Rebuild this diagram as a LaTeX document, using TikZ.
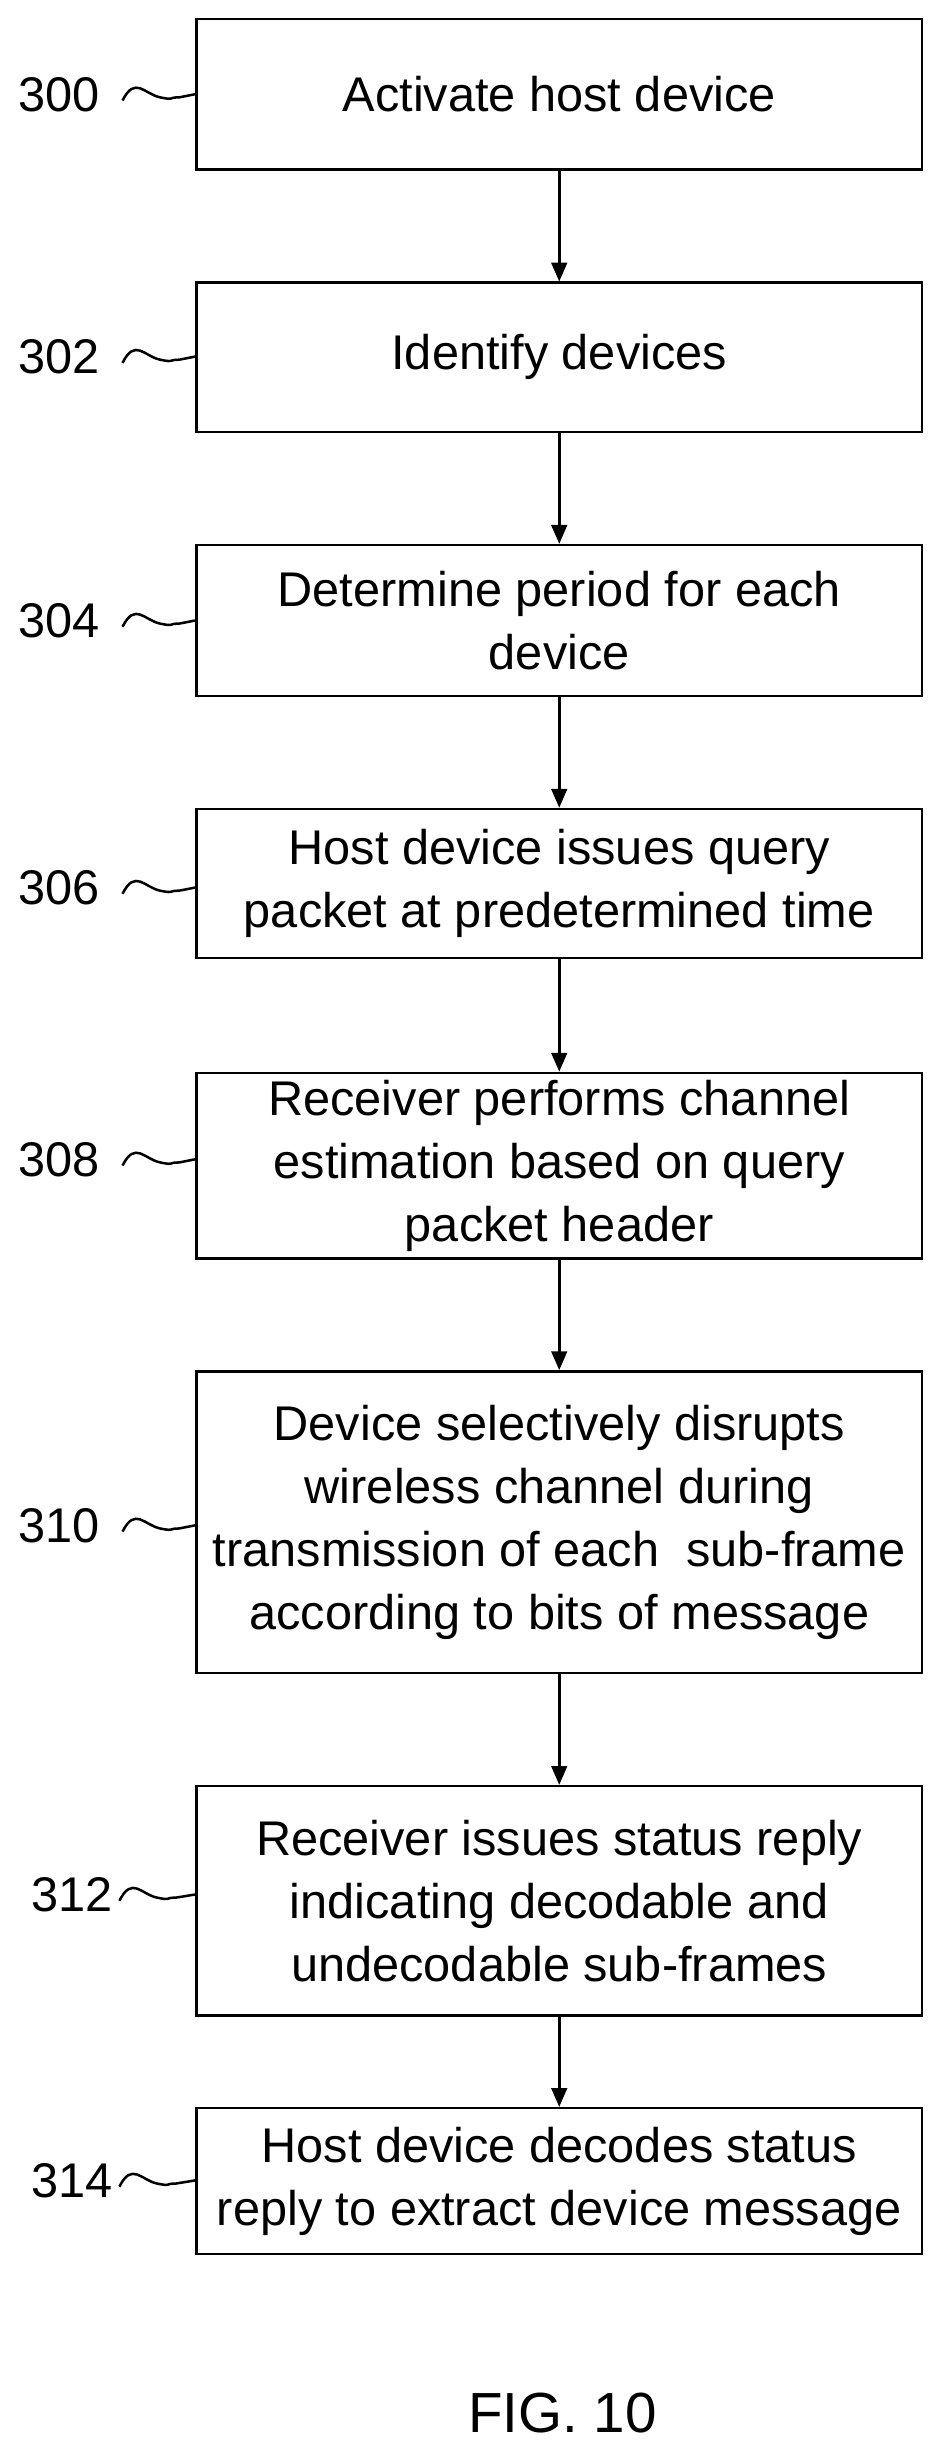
\documentclass[tikz,border=0pt]{standalone}
\usepackage{fontspec}
\setmainfont{Liberation Sans}
\usetikzlibrary{arrows.meta}
\begin{document}
\begin{tikzpicture}[
    x=0.5pt, y=-0.5pt,
    stepbox/.style = {draw, line width=0.8pt, rectangle, align=center, minimum width=231pt,
                   font=\fontsize{15.5}{20}\selectfont, inner sep=0pt},
    num/.style = {font=\fontsize{15.5}{16}\selectfont, anchor=east, inner sep=1pt},
    flow/.style = {-{Triangle[length=6pt,width=5pt]}, line width=0.8pt},
    wave/.style = {line width=0.8pt}
  ]
  \useasboundingbox (0,0) rectangle (604,1566);

  \node[stepbox, minimum height=48pt] (a) at (356,60) {Activate host device};
  \node[stepbox, minimum height=47.5pt] (b) at (356,227.5) {Identify devices};
  \node[stepbox, minimum height=48pt] (c) at (356,395) {Determine period for each\\device};
  \node[stepbox, minimum height=47.5pt] (d) at (356,562.5) {Host device issues query\\packet at predetermined time};
  \node[stepbox, minimum height=59pt] (e) at (356,742) {Receiver performs channel\\estimation based on query\\packet header};
  \node[stepbox, minimum height=96pt] (f) at (356,969) {Device selectively disrupts\\wireless channel during\\transmission of each\ \ sub-frame\\according to bits of message};
  \node[stepbox, minimum height=73pt] (g) at (356,1210) {Receiver issues status reply\\indicating decodable and\\undecodable sub-frames};
  \node[stepbox, minimum height=46.5pt] (h) at (356,1388.5) {Host device decodes status\\reply to extract device message};

  \node[num] (n300) at (66,60) {300};
  \node[num] (n302) at (66,227) {302};
  \node[num] (n304) at (66,395) {304};
  \node[num] (n306) at (66,565) {306};
  \node[num] (n308) at (66,738) {308};
  \node[num] (n310) at (66,971) {310};
  \node[num] (n312) at (74,1206) {312};
  \node[num] (n314) at (74,1388) {314};

  % reference squiggles
  \foreach \n/\s in {300/a,302/b,304/c,306/d,308/e,310/f} {
    \draw[wave] (n\n.east) ++(12,4) .. controls ++(8,-16) and ++(-10,-2) .. ++(24,-2)
      .. controls ++(10,2) and ++(-8,0) .. ++(12,0) -- (\s.west |- n\n.east);
  }
  \foreach \n/\s in {312/g,314/h} {
    \draw[wave] (n\n.east) ++(2,4) .. controls ++(8,-16) and ++(-10,-2) .. ++(24,-2)
      .. controls ++(10,2) and ++(-8,0) .. ++(12,0) -- (\s.west |- n\n.east);
  }

  \draw[flow] (a) -- (b);
  \draw[flow] (b) -- (c);
  \draw[flow] (c) -- (d);
  \draw[flow] (d) -- (e);
  \draw[flow] (e) -- (f);
  \draw[flow] (f) -- (g);
  \draw[flow] (g) -- (h);

  \node[font=\fontsize{18}{20}\selectfont] (fig) at (358,1536) {FIG. 10};
\end{tikzpicture}
\end{document}
